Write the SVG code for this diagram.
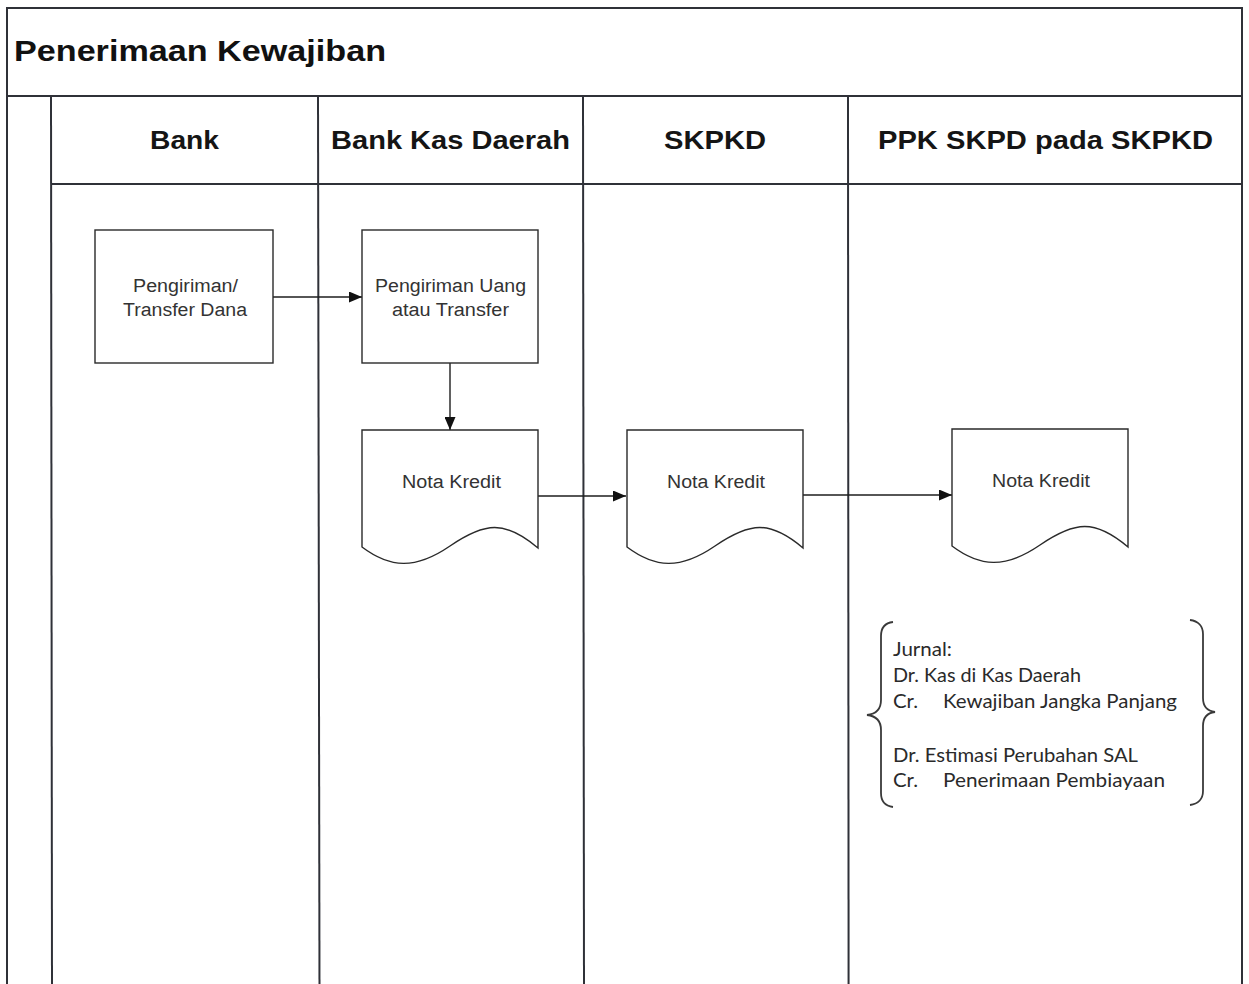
<svg xmlns="http://www.w3.org/2000/svg" width="1249" height="984" viewBox="0 0 1249 984">
  <style>
    .frame { fill: none; stroke: #2f3138; stroke-width: 2; }
    .shape { fill: #ffffff; stroke: #2a2a2a; stroke-width: 1.4; }
    .conn { fill: none; stroke: #1e1e1e; stroke-width: 1.4; }
    .brace { fill: none; stroke: #3a3a3a; stroke-width: 1.8; }
    .title { font-family: "Liberation Sans", Arial, sans-serif; font-weight: bold; font-size: 30px; fill: #111; }
    .lane { font-family: "Liberation Sans", Arial, sans-serif; font-weight: bold; font-size: 26px; fill: #151515; text-anchor: middle; }
    .lbl { font-family: "Liberation Sans", Arial, sans-serif; font-size: 18px; fill: #333; text-anchor: middle; }
    .jr { font-family: Lato, "Open Sans", sans-serif; font-size: 20px; fill: #2a2a2a; }
  </style>
  <defs>
    <marker id="arrow" viewBox="0 0 13 11" refX="13" refY="5.5" markerWidth="13" markerHeight="11" markerUnits="userSpaceOnUse" orient="auto">
      <path d="M0,0 L13,5.5 L0,11 z" fill="#111"/>
    </marker>
  </defs>

  <rect x="0" y="0" width="1249" height="984" fill="#ffffff"/>

  <!-- pool frame and lanes -->
  <g id="pool">
    <path class="frame" d="M7,990 V8 H1242 V990"/>
    <line class="frame" x1="7" y1="96" x2="1242" y2="96"/>
    <line class="frame" x1="51" y1="184" x2="1242" y2="184"/>
    <line class="frame" x1="51" y1="96" x2="52" y2="990"/>
    <line class="frame" x1="318" y1="96" x2="319.5" y2="990"/>
    <line class="frame" x1="583" y1="96" x2="584" y2="990"/>
    <line class="frame" x1="848" y1="96" x2="848.6" y2="990"/>
    <text class="title" x="14" y="61" textLength="372" lengthAdjust="spacingAndGlyphs">Penerimaan Kewajiban</text>
    <text class="lane" x="184.5" y="149" textLength="69" lengthAdjust="spacingAndGlyphs">Bank</text>
    <text class="lane" x="450.5" y="149" textLength="239" lengthAdjust="spacingAndGlyphs">Bank Kas Daerah</text>
    <text class="lane" x="715" y="149" textLength="102" lengthAdjust="spacingAndGlyphs">SKPKD</text>
    <text class="lane" x="1045.5" y="149" textLength="335" lengthAdjust="spacingAndGlyphs">PPK SKPD pada SKPKD</text>
  </g>

  <!-- connectors -->
  <g id="connectors">
    <line class="conn" x1="273" y1="297" x2="362" y2="297" marker-end="url(#arrow)"/>
    <line class="conn" x1="450" y1="363" x2="450" y2="430" marker-end="url(#arrow)"/>
    <line class="conn" x1="538" y1="496" x2="626" y2="496" marker-end="url(#arrow)"/>
    <line class="conn" x1="803" y1="495" x2="952" y2="495" marker-end="url(#arrow)"/>
  </g>

  <g id="pengiriman-transfer-dana">
    <rect class="shape" x="95" y="230" width="178" height="133"/>
    <text class="lbl" x="185.5" y="292" textLength="105" lengthAdjust="spacingAndGlyphs">Pengiriman/</text>
    <text class="lbl" x="185" y="316" textLength="124" lengthAdjust="spacingAndGlyphs">Transfer Dana</text>
  </g>

  <g id="pengiriman-uang">
    <rect class="shape" x="362" y="230" width="176" height="133"/>
    <text class="lbl" x="450.5" y="292" textLength="151" lengthAdjust="spacingAndGlyphs">Pengiriman Uang</text>
    <text class="lbl" x="450.5" y="316" textLength="117" lengthAdjust="spacingAndGlyphs">atau Transfer</text>
  </g>

  <g id="nota-kredit-bkd">
    <path class="shape" d="M362,430 H538 V548 C505,520 485,522 450,546 C415,570 390,568 362,547 Z"/>
    <text class="lbl" x="451.5" y="488" textLength="99" lengthAdjust="spacingAndGlyphs">Nota Kredit</text>
  </g>

  <g id="nota-kredit-skpkd">
    <path class="shape" d="M627,430 H803 V548 C770,520 750,522 715,546 C680,570 655,568 627,547 Z"/>
    <text class="lbl" x="716" y="488" textLength="98" lengthAdjust="spacingAndGlyphs">Nota Kredit</text>
  </g>

  <g id="nota-kredit-ppk">
    <path class="shape" d="M952,429 H1128 V547 C1095,519 1075,521 1040,545 C1005,569 980,567 952,546 Z"/>
    <text class="lbl" x="1041" y="487" textLength="98" lengthAdjust="spacingAndGlyphs">Nota Kredit</text>
  </g>

  <g id="jurnal">
    <path class="brace" d="M893,622 C885,623 881,628 881,636 V700 C881,709 876,714 867,715 C876,716 881,721 881,730 V793 C881,801 885,806 893,807"/>
    <path class="brace" d="M1190,620 C1198,621 1203,626 1203,634 V698 C1203,707 1207,711 1215,712 C1207,713 1203,717 1203,726 V791 C1203,799 1198,804 1190,805"/>
    <text class="jr" x="893" y="656" textLength="59" lengthAdjust="spacingAndGlyphs">Jurnal:</text>
    <text class="jr" x="893" y="682" textLength="188" lengthAdjust="spacingAndGlyphs">Dr. Kas di Kas Daerah</text>
    <text class="jr" x="893" y="708" textLength="25" lengthAdjust="spacingAndGlyphs">Cr.</text>
    <text class="jr" x="943" y="708" textLength="234" lengthAdjust="spacingAndGlyphs">Kewajiban Jangka Panjang</text>
    <text class="jr" x="893" y="762" textLength="245" lengthAdjust="spacingAndGlyphs">Dr. Estimasi Perubahan SAL</text>
    <text class="jr" x="893" y="787" textLength="25" lengthAdjust="spacingAndGlyphs">Cr.</text>
    <text class="jr" x="943" y="787" textLength="222" lengthAdjust="spacingAndGlyphs">Penerimaan Pembiayaan</text>
  </g>
</svg>
